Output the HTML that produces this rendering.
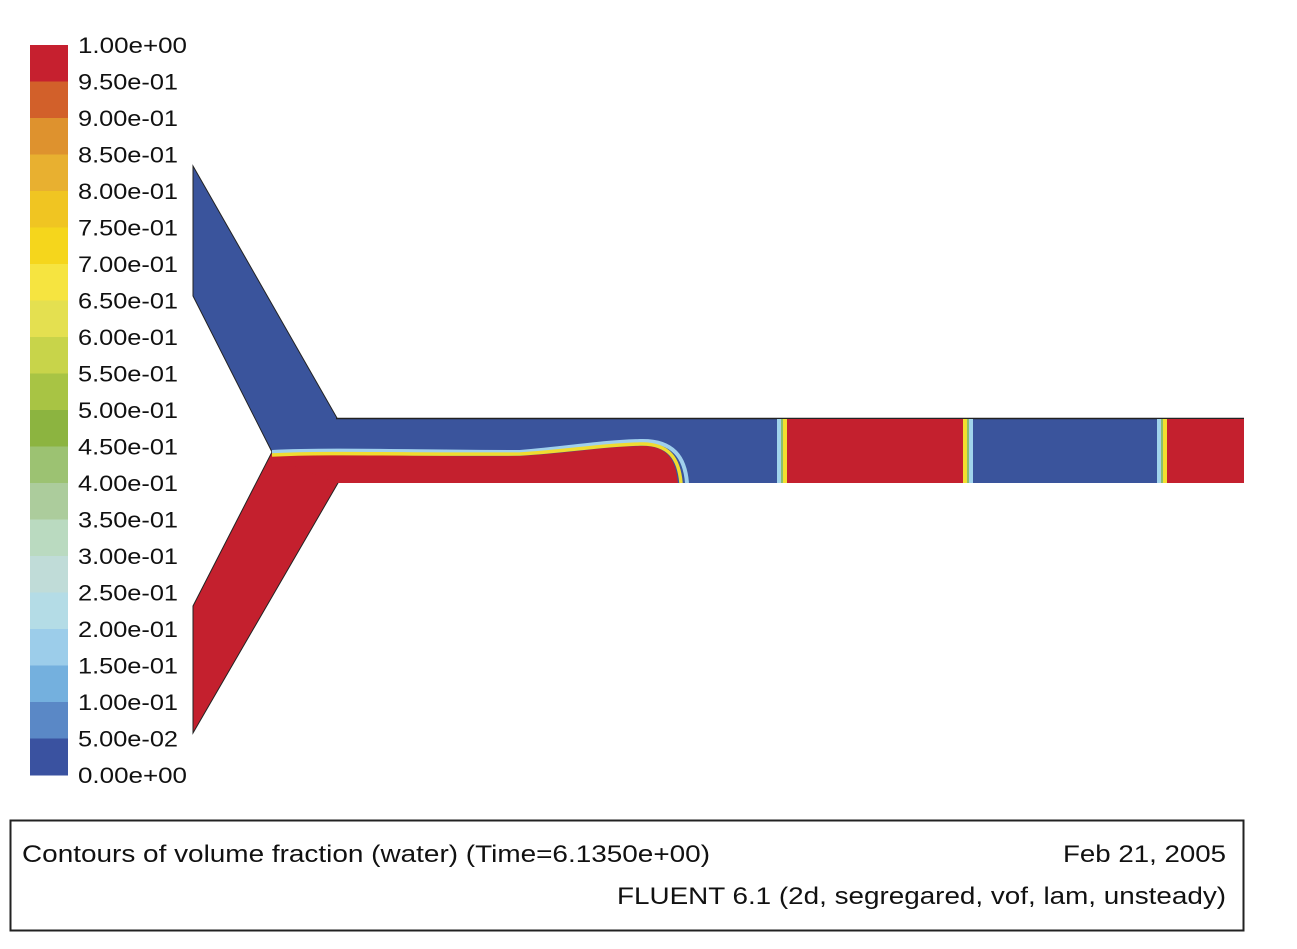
<!DOCTYPE html>
<html><head><meta charset="utf-8"><style>
html,body{margin:0;padding:0;background:#fff;width:1297px;height:949px;overflow:hidden}
svg{display:block}
text{font-family:"Liberation Sans",Arial,sans-serif;fill:#111}
</style></head><body>
<svg id="chart" width="1297" height="949" viewBox="0 0 1297 949">
<g id="colorbar"></g>
<g id="domain">
  <polygon points="193,166 337,418 337,452 272,452 193,296" fill="#3a549c" stroke="#222" stroke-width="1"/>
  <polygon points="272,452 338,452 338,483 193,733 193,606" fill="#c4202e" stroke="#222" stroke-width="1"/>
  <rect x="336" y="418" width="908" height="65" fill="#3a549c"/>
  <line x1="336" y1="418.5" x2="1244" y2="418.5" stroke="#222" stroke-width="1.5"/>
  <path d="M272,452 C330,449 420,452 520,452 C570,448 600,442 640,441 C674,440 685,458 687,483" fill="none" stroke="#a0d0ec" stroke-width="4"/>
  <path d="M272,457 C330,453 420,457 520,456 C570,453 600,447 640,446 C668,445 676,460 678,483 L336,483 Z" fill="#c4202e"/>
  <path d="M272,455 C330,452 420,455 520,454 C570,451 600,445 640,444 C670,443 679,460 681,483" fill="none" stroke="#f0dc30" stroke-width="3.5"/>
  <g id="slugs"></g>
</g>
<rect x="10.5" y="820.5" width="1233" height="110" fill="none" stroke="#222" stroke-width="2"/>
<text x="22" y="862" font-size="24" textLength="688" lengthAdjust="spacingAndGlyphs">Contours of volume fraction (water) (Time=6.1350e+00)</text>
<text x="1063" y="862" font-size="24" textLength="163" lengthAdjust="spacingAndGlyphs">Feb 21, 2005</text>
<text x="617" y="904" font-size="24" textLength="609" lengthAdjust="spacingAndGlyphs">FLUENT 6.1 (2d, segregared, vof, lam, unsteady)</text>
</svg>
<script>
const levels=["1.00e+00","9.50e-01","9.00e-01","8.50e-01","8.00e-01","7.50e-01","7.00e-01","6.50e-01","6.00e-01","5.50e-01","5.00e-01","4.50e-01","4.00e-01","3.50e-01","3.00e-01","2.50e-01","2.00e-01","1.50e-01","1.00e-01","5.00e-02","0.00e+00"];
const bandColors=["#c6202f","#d2602a","#de922e","#e8b030","#f0c522","#f5d61c","#f6e440","#e4e050","#c8d44a","#a8c444","#8cb440","#9cc272","#accc9c","#badac0","#c0dcd8","#b4dce6","#9ccdea","#74b0de","#5a88c6","#3a52a0"];
const slugInterfaces=[783,967,1163];
const slugDirections=["blue-red","red-blue","blue-red"];

const NS="http://www.w3.org/2000/svg";
const cb=document.getElementById("colorbar");
const y0=45,y1=775,bx=30,bw=38;
const yScale=i=>y0+(y1-y0)*i/(levels.length-1);
bandColors.forEach((c,i)=>{
  const r=document.createElementNS(NS,"rect");
  r.setAttribute("x",bx);r.setAttribute("y",yScale(i));r.setAttribute("width",bw);
  r.setAttribute("height",yScale(i+1)-yScale(i)+0.5);r.setAttribute("fill",c);
  
  
  cb.appendChild(r);
});
levels.forEach((l,i)=>{
  const t=document.createElementNS(NS,"text");
  t.setAttribute("x",78);t.setAttribute("y",yScale(i)+8);t.setAttribute("font-size","22");
  t.setAttribute("textLength",l.indexOf("+")>=0?109:100);
  t.setAttribute("lengthAdjust","spacingAndGlyphs");
  t.textContent=l;
  
  
  cb.appendChild(t);
});
const sg=document.getElementById("slugs");
const chL=336,chR=1244,chT=419,chB=483;
slugInterfaces.forEach((x,i)=>{
  const next=i+1<slugInterfaces.length?slugInterfaces[i+1]:chR;
  const red=slugDirections[i]==="blue-red";
  if(red){
    const r=document.createElementNS(NS,"rect");
    r.setAttribute("x",x);r.setAttribute("y",chT);r.setAttribute("width",next-x);r.setAttribute("height",chB-chT);
    r.setAttribute("fill","#c4202e");
    
    
    sg.appendChild(r);
  }
  const strips=red?[["#a0d4ec",-6,4],["#8cc06a",-2,2],["#f2e030",0,4]]:[["#f2e030",-4,4],["#8cc06a",0,2],["#a0d4ec",2,4]];
  strips.forEach(s=>{
    const r=document.createElementNS(NS,"rect");
    r.setAttribute("x",x+s[1]);r.setAttribute("y",chT);r.setAttribute("width",s[2]);r.setAttribute("height",chB-chT);
    r.setAttribute("fill",s[0]);
    
    
    sg.appendChild(r);
  });
});
</script>
</body></html>
